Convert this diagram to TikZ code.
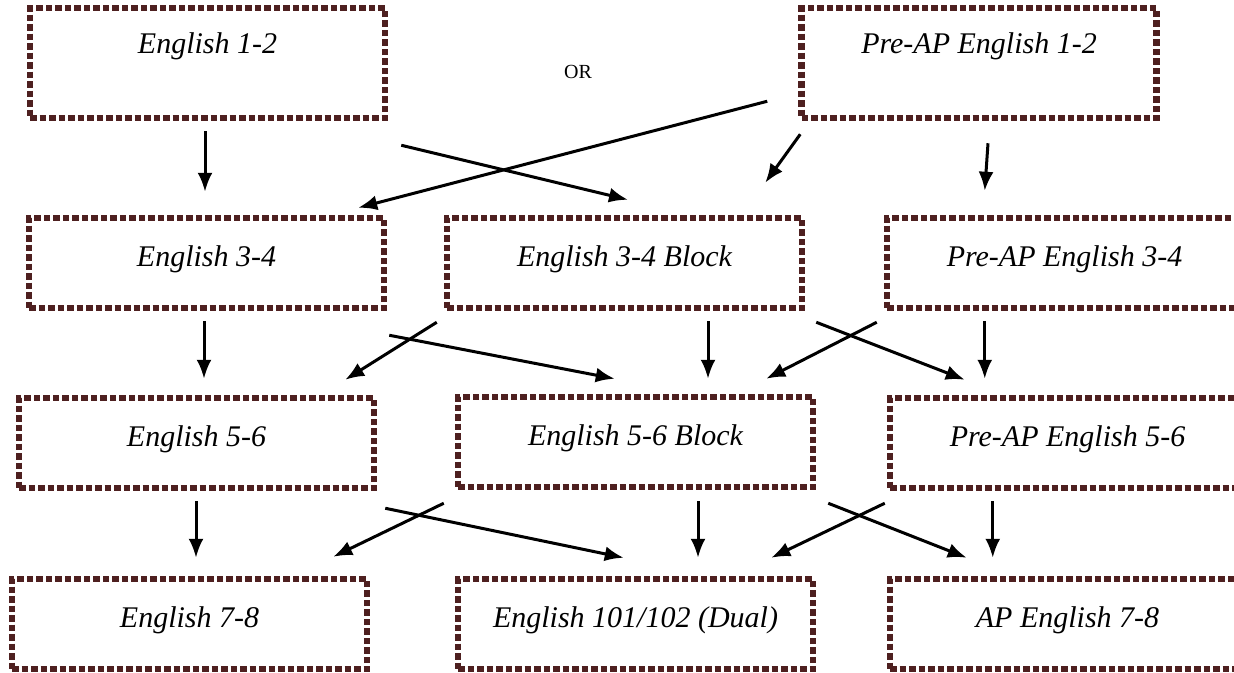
\documentclass[tikz,border=0pt]{standalone}
\usepackage{fontspec}
\setmainfont{Liberation Serif}
\usetikzlibrary{arrows.meta,calc}
\definecolor{boxbrown}{RGB}{78,32,32}

\begin{document}
\begin{tikzpicture}[x = 1pt, y = -1pt,
        course/.style = {draw = boxbrown, line width = 6.5pt, dash pattern = on 6.5pt off 3pt,
            minimum width = 355pt, minimum height = 90pt, inner sep = 0pt,
            font = \fontsize{30}{36}\selectfont\itshape, text height = 21pt, text depth = 14pt},
        toprow/.style = {minimum height = 110pt, text depth = 41pt},
        flow/.style = {line width = 3pt, -{Latex[length = 19pt, width = 15pt]}}]
    \useasboundingbox (0,0) rectangle (1234,672);
    \clip (0,0) rectangle (1234,672);
    % courses
    \node[course, toprow] (e12) at (207.5,63) {English 1-2};
    \node[course, toprow] (p12) at (979,63) {Pre-AP English 1-2};
    \node[font = \fontsize{20}{24}\selectfont] (or) at (578,72) {OR};
    \node[course] (e34) at (206.5,263) {English 3-4};
    \node[course] (b34) at (624.5,263) {English 3-4 Block};
    \node[course] (p34) at (1064.5,263) {Pre-AP English 3-4};
    \node[course] (e56) at (196.5,443) {English 5-6};
    \node[course] (b56) at (635.5,442) {English 5-6 Block};
    \node[course] (p56) at (1067.5,443) {Pre-AP English 5-6};
    \node[course] (e78) at (189.5,624) {English 7-8};
    \node[course] (dual) at (635.5,624) {English 101/102 (Dual)};
    \node[course] (ap78) at (1067.5,624) {AP English 7-8};
    % first to second year
    \draw[flow] ($(e12.south)+(-2.5,10)$) -- ($(e34.north)+(-1.5,-23)$);
    \draw[flow] ($(e12.south east)+(13,24)$) -- ($(b34.north)+(3.5,-15)$);
    \draw[flow] ($(p12.south west)+(-31,-20)$) -- ($(e34.north east)+(-29,-7)$);
    \draw[flow] ($(p12.south west)+(2,13)$) -- ($(b34.north east)+(-40,-32)$);
    \draw[flow] ($(p12.south)+(9,22)$) -- ($(p34.north west)+(101,-24)$);
    % second to third year
    \draw[flow] ($(e34.south)+(-2.5,10)$) -- ($(e56.north)+(7.5,-16)$);
    \draw[flow] ($(e34.south east)+(2,24)$) -- ($(b56.north west)+(160,-15)$);
    \draw[flow] ($(b34.south west)+(-7,11)$) -- ($(e56.north east)+(-32,-15)$);
    \draw[flow] ($(b34.south)+(83.5,10)$) -- ($(b56.north)+(72.5,-15)$);
    \draw[flow] ($(b34.south east)+(11,11)$) -- ($(p56.north west)+(78,-15)$);
    \draw[flow] ($(p34.south west)+(-7,11)$) -- ($(b56.north east)+(-50,-15)$);
    \draw[flow] ($(p34.south west)+(101,10)$) -- ($(p56.north west)+(98,-16)$);
    % third to fourth year
    \draw[flow] ($(e56.south)+(-0.5,10)$) -- ($(e78.north)+(6.5,-18)$);
    \draw[flow] ($(e56.south east)+(8,17)$) -- ($(dual.north west)+(169,-18)$);
    \draw[flow] ($(b56.south west)+(-11,13)$) -- ($(e78.north east)+(-37,-19)$);
    \draw[flow] ($(b56.south)+(62.5,11)$) -- ($(dual.north)+(62.5,-18)$);
    \draw[flow] ($(b56.south east)+(12,13)$) -- ($(ap78.north west)+(80,-18)$);
    \draw[flow] ($(p56.south west)+(-2,12)$) -- ($(dual.north east)+(-45,-18)$);
    \draw[flow] ($(p56.south west)+(106,10)$) -- ($(ap78.north west)+(106,-18)$);
\end{tikzpicture}
\end{document}
